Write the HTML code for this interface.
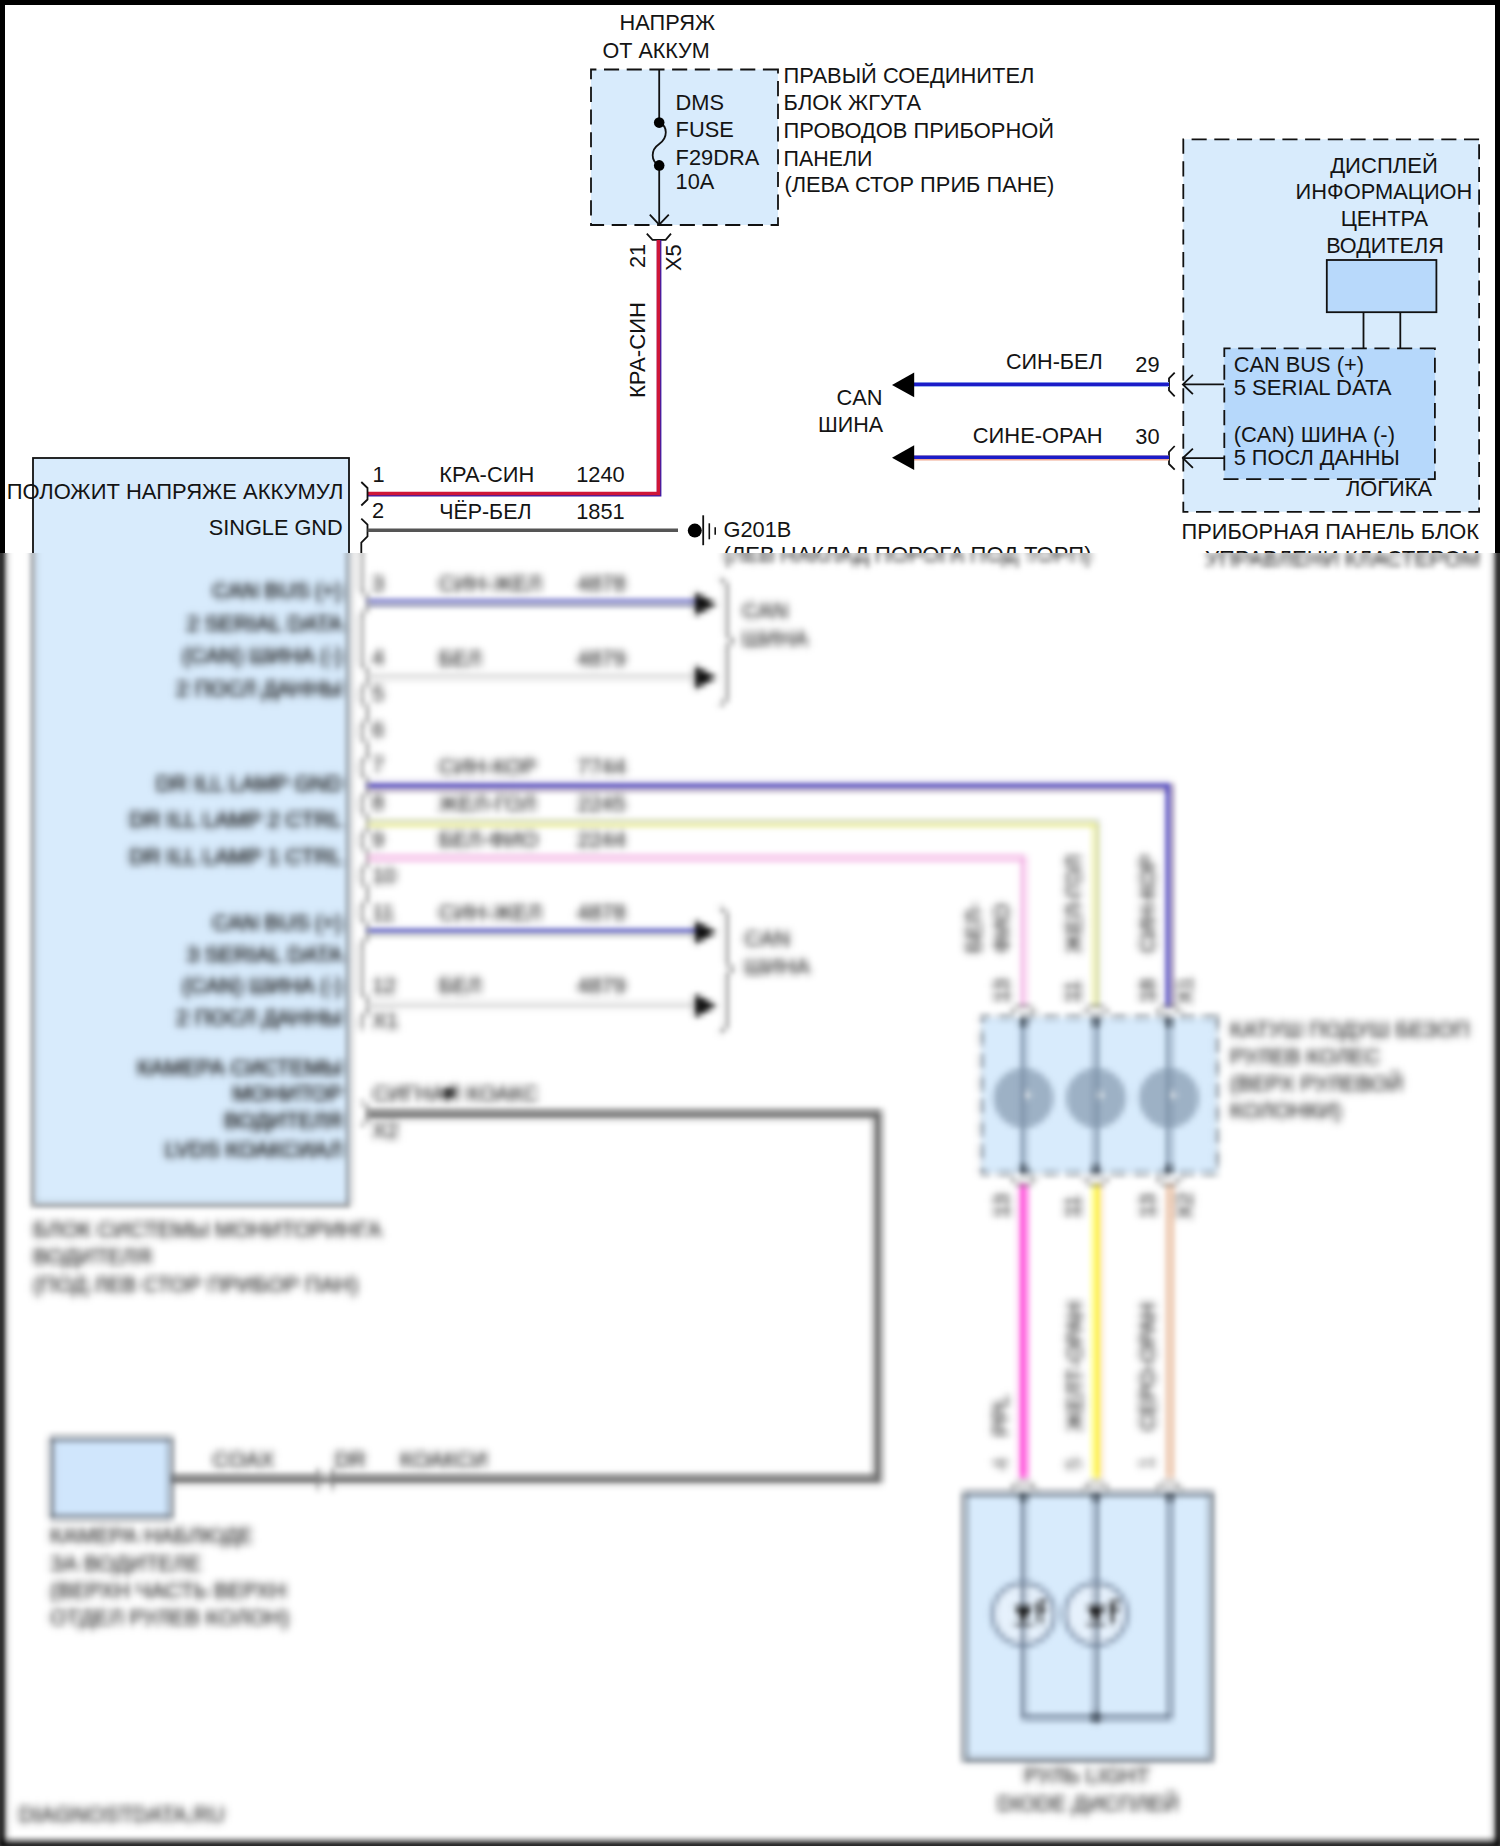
<!DOCTYPE html>
<html lang="ru">
<head>
<meta charset="utf-8">
<title>Wiring diagram</title>
<style>
html,body{margin:0;padding:0;background:#fff;}
body{width:1500px;height:1846px;overflow:hidden;}
svg{display:block;}
text{font-family:"Liberation Sans",sans-serif;font-size:21.8px;fill:#141414;}
.ln{stroke:#111;stroke-width:1.8;fill:none;}
.low text{stroke:#141414;stroke-width:.2px;}
.low #modtext text{stroke-width:.7px;}
.low .ln{stroke-width:1.6;stroke:#2a2a2a;}
.low .dash{stroke-width:1.9;stroke:#3c4650;}
.dash{stroke:#111;stroke-width:1.8;fill:none;stroke-dasharray:15.1 7.6;}
</style>
</head>
<body>
<svg width="1500" height="1846" viewBox="0 0 1500 1846">
<defs>
<clipPath id="cTop"><rect x="0" y="0" width="1500" height="553"/></clipPath>
<clipPath id="cBot"><rect x="0" y="553" width="1500" height="1293"/></clipPath>
<filter id="blur" x="-20" y="538" width="1540" height="1330" filterUnits="userSpaceOnUse" color-interpolation-filters="sRGB">
<feGaussianBlur in="SourceGraphic" stdDeviation="2.1" result="pre"/>
<feFlood x="-18" y="540" width="1" height="1" flood-color="#000" result="px"/>
<feComposite in="px" in2="px" operator="over" x="-20" y="538" width="5" height="5" result="cell"/>
<feTile in="cell" x="-20" y="538" width="1540" height="1330" result="grid"/>
<feComposite in="pre" in2="grid" operator="in" result="samp"/>
<feMorphology in="samp" operator="dilate" radius="2" result="mosaic"/>
<feGaussianBlur in="mosaic" stdDeviation="2.3"/>
</filter>
<filter id="tmush" x="-10" y="540" width="1520" height="1310" filterUnits="userSpaceOnUse" color-interpolation-filters="sRGB">
<feGaussianBlur stdDeviation="2"/>
</filter>
<g id="d">
<rect x="-40" y="-40" width="1580" height="1926" fill="#fff"/>
<!-- page border -->
<path d="M-4,-4H1504V1850H-4Z M5,5V1841H1495V5Z" fill="#000" fill-rule="evenodd"/>

<!-- ================= FUSE BLOCK ================= -->
<g id="fuse">
<rect x="591" y="69.5" width="187" height="155.5" fill="#d8ebfc"/>
<path d="M778,69.5H591V225H778Z" class="dash"/>
<path class="ln" d="M659.2,70V122 M659.2,166V224"/>
<path class="ln" d="M659.2,122.6C668,126 668,138 659.2,144C650.5,150 650.5,161 659.2,165.4"/>
<circle cx="659.2" cy="122.6" r="5.3" fill="#000"/>
<circle cx="659.2" cy="165.4" r="5.3" fill="#000"/>
<path class="ln" d="M649.8,214.7L659.2,224.6L668.8,214.7"/>
<path class="ln" d="M646.8,233.7L652.5,239.8H665.7L671,233.7"/>
<text x="619.5" y="30.3" textLength="95.5" lengthAdjust="spacingAndGlyphs">НАПРЯЖ</text>
<text x="602.5" y="57.7" textLength="107.2" lengthAdjust="spacingAndGlyphs">ОТ АККУМ</text>
<text x="675.6" y="109.6">DMS</text>
<text x="675.6" y="137.3">FUSE</text>
<text x="675.6" y="164.6">F29DRA</text>
<text x="675.6" y="188.9">10A</text>
<text x="783.6" y="83" textLength="250.8" lengthAdjust="spacingAndGlyphs">ПРАВЫЙ СОЕДИНИТЕЛ</text>
<text x="783.6" y="110" textLength="137.4" lengthAdjust="spacingAndGlyphs">БЛОК ЖГУТА</text>
<text x="783.6" y="137.6" textLength="270.4" lengthAdjust="spacingAndGlyphs">ПРОВОДОВ ПРИБОРНОЙ</text>
<text x="783.6" y="165.6" textLength="88.8" lengthAdjust="spacingAndGlyphs">ПАНЕЛИ</text>
<text x="784.4" y="192.4" textLength="270" lengthAdjust="spacingAndGlyphs">(ЛЕВА СТОР ПРИБ ПАНЕ)</text>
</g>

<!-- red/blue wire from fuse to pin 1 -->
<g id="w1">
<path d="M659.1,240V494.3H367.5" fill="none" stroke="#3a1caa" stroke-width="4.6"/>
<path d="M658.4,240V493.6H367.5" fill="none" stroke="#cf1638" stroke-width="3.5"/>
<text transform="translate(644.5,268) rotate(-90)">21</text>
<text transform="translate(681,271) rotate(-90)">X5</text>
<text transform="translate(644.5,398) rotate(-90)" textLength="96" lengthAdjust="spacingAndGlyphs">КРА-СИН</text>
</g>

<!-- ================= LEFT MODULE ================= -->
<g id="module">
<rect x="33" y="458" width="316" height="747" fill="#d8ebfc" stroke="#111" stroke-width="1.8"/>
<text x="343.5" y="499.2" text-anchor="end" textLength="336.8" lengthAdjust="spacingAndGlyphs">ПОЛОЖИТ НАПРЯЖЕ АККУМУЛ</text>
<text x="342.7" y="535.2" text-anchor="end" textLength="134" lengthAdjust="spacingAndGlyphs">SINGLE GND</text>
</g>

<!-- pin 1 / 2 labels and wires -->
<g id="pins12">
<path class="ln" d="M361.3,482L367.5,488V499.5L361.3,505.5"/>
<path class="ln" d="M361.3,518.7L367.5,524.7V536.5L361.3,542.7V553"/>
<text x="372.5" y="481.5">1</text>
<text x="372" y="518">2</text>
<text x="439.2" y="482" textLength="95" lengthAdjust="spacingAndGlyphs">КРА-СИН</text>
<text x="576.2" y="482">1240</text>
<text x="439.2" y="518.5" textLength="92.3" lengthAdjust="spacingAndGlyphs">ЧЁР-БЕЛ</text>
<text x="576.2" y="518.5">1851</text>
<path d="M367.5,530.2H678" stroke="#555" stroke-width="3.6" fill="none"/>
<circle cx="694.8" cy="530.6" r="7" fill="#000"/>
<path d="M703.2,515.3V545.2" stroke="#111" stroke-width="1.8"/>
<path d="M709.3,523.3V539.3" stroke="#111" stroke-width="1.6"/>
<path d="M715.2,527.3V534.8" stroke="#111" stroke-width="1.6"/>
<text x="723.5" y="537">G201B</text>
<text x="723.5" y="562.2" textLength="368" lengthAdjust="spacingAndGlyphs">(ЛЕВ НАКЛАД ПОРОГА ПОД ТОРП)</text>
</g>

<!-- ================= RIGHT MODULE (cluster) ================= -->
<g id="cluster">
<rect x="1183.3" y="139.3" width="295.8" height="372.5" fill="#d8ebfc"/>
<path d="M1479.1,139.3H1183.3V511.8H1479.1Z" class="dash"/>
<text x="1384" y="172.6" text-anchor="middle" textLength="107.6" lengthAdjust="spacingAndGlyphs">ДИСПЛЕЙ</text>
<text x="1384" y="198.6" text-anchor="middle" textLength="176.8" lengthAdjust="spacingAndGlyphs">ИНФОРМАЦИОН</text>
<text x="1384.4" y="225.8" text-anchor="middle" textLength="87.5" lengthAdjust="spacingAndGlyphs">ЦЕНТРА</text>
<text x="1385" y="253" text-anchor="middle" textLength="117.7" lengthAdjust="spacingAndGlyphs">ВОДИТЕЛЯ</text>
<rect x="1326.8" y="260" width="109.6" height="52.2" fill="#b8d9fb" stroke="#111" stroke-width="1.8"/>
<path class="ln" d="M1363.5,312V348 M1400.3,312V348"/>
<rect x="1224.3" y="348.3" width="210.6" height="130.8" fill="#b6d8fb"/>
<path d="M1434.9,348.3H1224.3V479.1H1434.9Z" class="dash"/>
<text x="1233.7" y="371.9" textLength="130.3" lengthAdjust="spacingAndGlyphs">CAN BUS (+)</text>
<text x="1233.7" y="395.3" textLength="157.9" lengthAdjust="spacingAndGlyphs">5 SERIAL DATA</text>
<text x="1233.7" y="442.2" textLength="161.3" lengthAdjust="spacingAndGlyphs">(CAN) ШИНА (-)</text>
<text x="1233.7" y="465.3" textLength="166.1" lengthAdjust="spacingAndGlyphs">5 ПОСЛ ДАННЫ</text>
<text x="1345.9" y="496.1" textLength="86.1" lengthAdjust="spacingAndGlyphs">ЛОГИКА</text>
<text x="1181.5" y="539" textLength="297.6" lengthAdjust="spacingAndGlyphs">ПРИБОРНАЯ ПАНЕЛЬ БЛОК</text>
<text x="1480" y="566" text-anchor="end" textLength="275" lengthAdjust="spacingAndGlyphs">УПРАВЛЕНИ КЛАСТЕРОМ</text>
<!-- arrows into module -->
<path class="ln" d="M1224,384.4H1183 M1192.9,374.9L1182.9,384.4L1192.9,394.2"/>
<path class="ln" d="M1224,458.1H1183 M1192.9,448.6L1182.9,458.1L1192.9,467.9"/>
<path class="ln" d="M1174.7,372.6L1169,378.4V390.4L1174.7,396.4"/>
<path class="ln" d="M1174.7,446L1169,452V464L1174.7,469.6"/>
</g>

<!-- CAN wires to cluster -->
<g id="canR">
<path d="M913,384.6H1169" stroke="#9db4f0" stroke-width="5" fill="none"/>
<path d="M913,384.4H1169" stroke="#1c1cc8" stroke-width="3.2" fill="none"/>
<path d="M913,457.9H1169" stroke="#f0a890" stroke-width="5" fill="none"/>
<path d="M913,457.3H1169" stroke="#1c1cc8" stroke-width="3.4" fill="none"/>
<path d="M892,384.9L914.2,372.5V397.3Z" fill="#000"/>
<path d="M892,457.7L914.2,445.3V470.1Z" fill="#000"/>
<text x="1005.9" y="369.3" textLength="96.8" lengthAdjust="spacingAndGlyphs">СИН-БЕЛ</text>
<text x="1135.3" y="371.5">29</text>
<text x="972.8" y="442.7" textLength="129.9" lengthAdjust="spacingAndGlyphs">СИНЕ-ОРАН</text>
<text x="1135.3" y="444">30</text>
<text x="882.5" y="404.5" text-anchor="end">CAN</text>
<text x="883.2" y="431.5" text-anchor="end" textLength="65.1" lengthAdjust="spacingAndGlyphs">ШИНА</text>
</g>

<g class="low">
<!-- ================= MODULE LOWER TEXT ================= -->
<g id="modtext" filter="url(#tmush)" text-anchor="end" transform="translate(-1.5,-0.5)">
<text x="344" y="598">CAN BUS (+)</text>
<text x="344" y="631">2 SERIAL DATA</text>
<text x="344" y="663.5">(CAN) ШИНА (-)</text>
<text x="344" y="696">2 ПОСЛ ДАННЫ</text>
<text x="344" y="791">DR ILL LAMP GND</text>
<text x="344" y="827.5">DR ILL LAMP 2 CTRL</text>
<text x="344" y="864">DR ILL LAMP 1 CTRL</text>
<text x="344" y="930">CAN BUS (+)</text>
<text x="344" y="962">3 SERIAL DATA</text>
<text x="344" y="993.5">(CAN) ШИНА (-)</text>
<text x="344" y="1025.5">2 ПОСЛ ДАННЫ</text>
<text x="344" y="1075">КАМЕРА СИСТЕМЫ</text>
<text x="344" y="1101">МОНИТОР</text>
<text x="344" y="1128">ВОДИТЕЛЯ</text>
<text x="344" y="1157">LVDS КОАКСИАЛ</text>
</g>




<!-- connector zig-zag brackets pins 3..12, X2 -->
<path class="ln" d="M361.3,553V590.5L367.5,596.5V609L361.3,615V664.5L367.5,670.5V683L361.3,689V701.5L367.5,707.5V719.5L361.3,725.5V738L367.5,744V756L361.3,762V774L367.5,780V792.5L361.3,798.5V811L367.5,817V829.5L361.3,835.5V846L367.5,852V864L361.3,870V882L367.5,888V900L361.3,906V919L367.5,925V938L361.3,944V993L367.5,999V1011.5L361.3,1017.5V1030"/>
<path class="ln" d="M361.3,1101L367.5,1107.5V1120L361.3,1126"/>

<!-- pin numbers -->
<g id="pinnums">












</g>

<!-- wire labels -->
<g id="wlabels">








</g>

<!-- CAN wires pin 3,4,11,12 -->
<g id="canL">
<path d="M367.5,603.2H696" stroke="#c8d070" stroke-width="5.2" fill="none"/>
<path d="M367.5,602.5H696" stroke="#2222c8" stroke-width="3.6" fill="none"/>
<path d="M367.5,676.7H696" stroke="#9a9a9a" stroke-width="4.4" fill="none"/>
<path d="M367.5,676.7H696" stroke="#ffffff" stroke-width="2.6" fill="none"/>
<path d="M367.5,932H696" stroke="#c8d070" stroke-width="5.2" fill="none"/>
<path d="M367.5,931.3H696" stroke="#2222c8" stroke-width="3.6" fill="none"/>
<path d="M367.5,1005H696" stroke="#9a9a9a" stroke-width="4.4" fill="none"/>
<path d="M367.5,1005H696" stroke="#ffffff" stroke-width="2.6" fill="none"/>
<path d="M716.5,604L695,592V616Z" fill="#0a0a0a"/>
<path d="M716.5,677.5L695,665.5V689.5Z" fill="#0a0a0a"/>
<path d="M716.5,932.3L695,920.3V944.3Z" fill="#0a0a0a"/>
<path d="M716.5,1005.8L695,993.8V1017.8Z" fill="#0a0a0a"/>
<path class="ln" d="M720,578L727,585V635L733,641L727,647V699L720,706"/>
<path class="ln" d="M720,907L727,914V963L733,969L727,975V1026L720,1033"/>




</g>
<!-- ================= LAMP WIRES 7/8/9 to clock spring ================= -->
<g id="lampw">
<path d="M367.5,786.6H1169.2V1006" fill="none" stroke="#8a5a3c" stroke-width="6"/>
<path d="M367.5,786H1168.6V1006" fill="none" stroke="#3a36cc" stroke-width="4.6"/>
<path d="M367.5,823.2H1096.2V1006" fill="none" stroke="#a9b6c4" stroke-width="6"/>
<path d="M367.5,824H1095.4V1006" fill="none" stroke="#eef08a" stroke-width="4.4"/>
<path d="M367.5,858H1023.6V1006" fill="none" stroke="#f3b2e4" stroke-width="5.4"/>








</g>

<!-- ================= CLOCK SPRING ================= -->
<g id="clock">
<rect x="981.5" y="1017" width="236" height="156.5" fill="#d8ebfc"/>
<path d="M1217.5,1017H981.5V1173.5H1217.5Z" class="dash"/>
<g fill="#9db1c5" stroke="#8fa3b8" stroke-width="1.5">
<circle cx="1023.5" cy="1098" r="29"/><circle cx="1096" cy="1098" r="29"/><circle cx="1169" cy="1098" r="29"/>
</g>
<g fill="#ffffff"><circle cx="1026" cy="1095" r="4.2"/><circle cx="1098.5" cy="1095" r="4.2"/><circle cx="1171.5" cy="1095" r="4.2"/></g>
<path d="M1023.5,1022V1169 M1096,1022V1169 M1169,1022V1169" stroke="#7d91a8" stroke-width="5" fill="none"/>
<g fill="#34404e"><circle cx="1023.5" cy="1022.5" r="4.4"/><circle cx="1096" cy="1022.5" r="4.4"/><circle cx="1169" cy="1022.5" r="4.4"/>
<circle cx="1023.5" cy="1169" r="4.4"/><circle cx="1096" cy="1169" r="4.4"/><circle cx="1169" cy="1169" r="4.4"/></g>
<path class="ln" d="M1011,1013L1017,1007H1030L1036,1013 M1083.5,1013L1089.5,1007H1102.5L1108.5,1013 M1156.5,1013L1162.5,1007H1175.5L1181.5,1013"/>
<path class="ln" d="M1011,1178L1017,1184H1030L1036,1178 M1083.5,1178L1089.5,1184H1102.5L1108.5,1178 M1156.5,1178L1162.5,1184H1175.5L1181.5,1178"/>








</g>

<!-- lower colored wires -->
<g id="loww">
<path d="M1023.5,1185V1478" stroke="#ff45d8" stroke-width="7.6" fill="none"/>
<path d="M1097.4,1185V1478" stroke="#f6b48a" stroke-width="7.2" fill="none"/>
<path d="M1096,1185V1478" stroke="#ffff30" stroke-width="5.8" fill="none"/>
<path d="M1170,1185V1478" stroke="#e9bda0" stroke-width="7" fill="none"/>






</g>

<!-- ================= LED DISPLAY BOX ================= -->
<g id="led">
<rect x="964.5" y="1493.5" width="247" height="266.5" fill="#d8ebfc" stroke="#6c7682" stroke-width="4.4"/>
<path class="ln" d="M1017,1483L1011,1489 M1030,1483L1036,1489 M1017,1483H1030 M1089.5,1483L1083.5,1489 M1102.5,1483L1108.5,1489 M1089.5,1483H1102.5 M1162.5,1483L1156.5,1489 M1175.5,1483L1181.5,1489 M1162.5,1483H1175.5"/>
<path d="M1023.5,1497V1717.5H1170V1497 M1096,1497V1717.5" stroke="#5a6a80" stroke-width="3.8" fill="none"/>
<g fill="#3a4654"><circle cx="1023.5" cy="1497.5" r="4.4"/><circle cx="1096" cy="1497.5" r="4.4"/><circle cx="1170" cy="1497.5" r="4.4"/><circle cx="1096" cy="1717.5" r="5.4"/></g>
<g fill="#e6f1fc" stroke="#7688a0" stroke-width="3.6"><circle cx="1023.5" cy="1614" r="31"/><circle cx="1096" cy="1614" r="31"/></g>
<path d="M1023.5,1583V1645 M1096,1583V1645" stroke="#5a6a80" stroke-width="3.8" fill="none"/>
<path d="M1014.5,1606H1032.5L1023.5,1623Z M1087,1606H1105L1096,1623Z" fill="#111"/>
<path d="M1014,1624H1033 M1086.5,1624H1105.5" stroke="#111" stroke-width="2"/>
<path d="M1036,1605L1046,1600 M1036,1613L1046,1608 M1040,1604V1624 M1108.5,1605L1118.5,1600 M1108.5,1613L1118.5,1608 M1112.5,1604V1624" stroke="#222" stroke-width="3.2" fill="none"/>


</g>

<!-- ================= COAX + CAMERA ================= -->
<g id="coax">
<path d="M367.5,1114H877.8V1479H173" fill="none" stroke="#707070" stroke-width="8.4"/>
<circle cx="449" cy="1093" r="6" fill="#333"/>
<rect x="51.500" y="1438.5" width="119.5" height="79" fill="#d0e6fc" stroke="#6a727c" stroke-width="4"/>
<rect x="319" y="1468.500" width="13" height="21" fill="#fff"/>
<path class="ln" d="M317,1468.500C322,1474 322,1484 317,1489.500 M334,1468.500C329,1474 329,1484 334,1489.500"/>
<path d="M321,1479H330" stroke="#1c1c1c" stroke-width="3"/>








</g>
<g id="lowtext" filter="url(#tmush)">
<text x="33" y="1237">БЛОК СИСТЕМЫ МОНИТОРИНГА</text>
<text x="33" y="1264">ВОДИТЕЛЯ</text>
<text x="33" y="1291.5">(ПОД ЛЕВ СТОР ПРИБОР ПАН)</text>
<text x="372" y="591">3</text>
<text x="372" y="665">4</text>
<text x="372" y="701">5</text>
<text x="372" y="737">6</text>
<text x="372" y="772">7</text>
<text x="372" y="810">8</text>
<text x="372" y="847">9</text>
<text x="372" y="883">10</text>
<text x="372" y="920">11</text>
<text x="372" y="993">12</text>
<text x="372" y="1028">X1</text>
<text x="372" y="1138">X2</text>
<text x="438.5" y="591">СИН-ЖЕЛ</text>
<text x="577.3" y="591">4878</text>
<text x="438.5" y="665.5">БЕЛ</text>
<text x="577.3" y="665.5">4879</text>
<text x="438.5" y="774">СИН-КОР</text>
<text x="577.3" y="774">7744</text>
<text x="438.5" y="810.5">ЖЕЛ-ГОЛ</text>
<text x="577.3" y="810.5">2245</text>
<text x="438.5" y="847">БЕЛ-ФИО</text>
<text x="577.3" y="847">2244</text>
<text x="438.5" y="920">СИН-ЖЕЛ</text>
<text x="577.3" y="920">4878</text>
<text x="438.5" y="993">БЕЛ</text>
<text x="577.3" y="993">4879</text>
<text x="372.5" y="1100.5">СИГНАЛ КОАКС</text>
<text x="742" y="618">CAN</text>
<text x="742" y="646">ШИНА</text>
<text x="744" y="946">CAN</text>
<text x="744" y="974">ШИНА</text>
<text transform="translate(981,953) rotate(-90)">БЕЛ-</text>
<text transform="translate(1009,953) rotate(-90)">ФИО</text>
<text transform="translate(1081,953) rotate(-90)">ЖЕЛ-ГОЛ</text>
<text transform="translate(1154.5,953) rotate(-90)">СИН-КОР</text>
<text transform="translate(1009,1003) rotate(-90)">13</text>
<text transform="translate(1080,1003) rotate(-90)">11</text>
<text transform="translate(1154.5,1003) rotate(-90)">18</text>
<text transform="translate(1191.5,1004) rotate(-90)">X1</text>
<text x="1230" y="1036.5">КАТУШ ПОДУШ БЕЗОП</text>
<text x="1230" y="1063.5">РУЛЕВ КОЛЕС</text>
<text x="1230" y="1090.5">(ВЕРХ РУЛЕВОЙ</text>
<text x="1230" y="1117.5">КОЛОНКИ)</text>
<text transform="translate(1009,1218) rotate(-90)">13</text>
<text transform="translate(1080,1218) rotate(-90)">11</text>
<text transform="translate(1154.5,1218) rotate(-90)">13</text>
<text transform="translate(1191.5,1219) rotate(-90)">X2</text>
<text transform="translate(1008,1436) rotate(-90)">PPL</text>
<text transform="translate(1082,1431) rotate(-90)">ЖЕЛТ-ОРАН</text>
<text transform="translate(1154.5,1431) rotate(-90)">СЕРО-ОРАН</text>
<text transform="translate(1008,1470) rotate(-90)" style="fill:#666;stroke:#666">4</text>
<text transform="translate(1081,1470) rotate(-90)" style="fill:#666;stroke:#666">5</text>
<text transform="translate(1154,1469) rotate(-90)" style="fill:#666;stroke:#666">1</text>
<text x="1087" y="1783" text-anchor="middle">РУЛЬ LIGHT</text>
<text x="1088" y="1810.5" text-anchor="middle">DIODE ДИСПЛЕЙ</text>
<text x="212.5" y="1467">COAX</text>
<text x="334.5" y="1467">DR</text>
<text x="400" y="1467">КОАКСИ</text>
<text x="50" y="1543">КАМЕРА НАБЛЮДЕ</text>
<text x="50" y="1570.5">ЗА ВОДИТЕЛЕ</text>
<text x="50" y="1598">(ВЕРХН ЧАСТЬ ВЕРХН</text>
<text x="50" y="1625">ОТДЕЛ РУЛЕВ КОЛОН)</text>
<text x="18.5" y="1821.5" style="fill:#5a5a5a;stroke:#5a5a5a;stroke-width:1px">DIAGNOSTDATA.RU</text>
</g>
</g>
<!--LOWER_END-->
</g>
</defs>
<use href="#d" clip-path="url(#cTop)"/>
<g clip-path="url(#cBot)"><use href="#d" filter="url(#blur)"/></g>
</svg>
</body>
</html>
